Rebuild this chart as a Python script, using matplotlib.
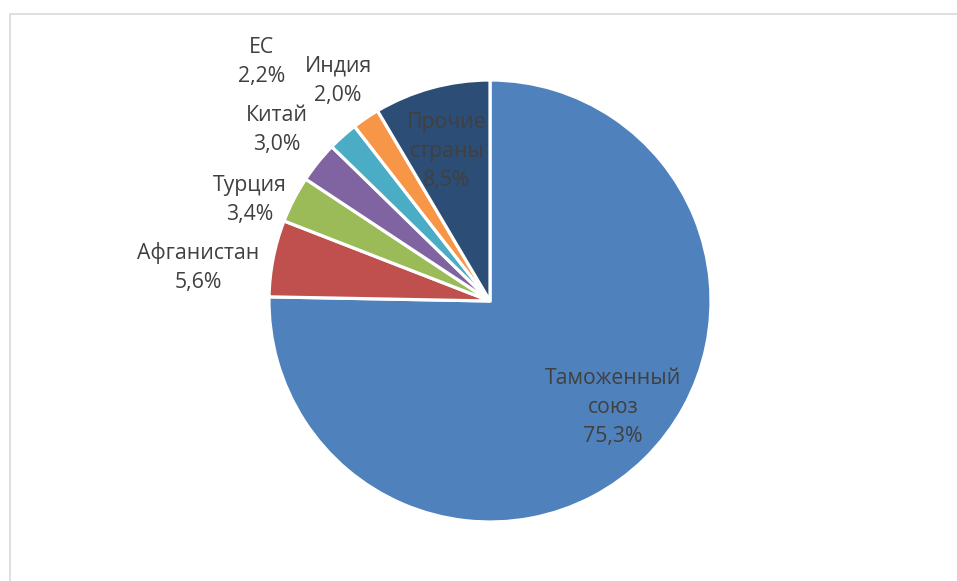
import numpy as np
import matplotlib
matplotlib.use("Agg")
import matplotlib.pyplot as plt
from matplotlib.patches import Rectangle

# ---- data ----
categories = ["Таможенный\nсоюз", "Афганистан", "Турция", "Китай", "ЕС", "Индия", "Прочие\nстраны"]
values = [75.3, 5.6, 3.4, 3.0, 2.2, 2.0, 8.5]
colors = ["#4F81BD", "#C0504D", "#9BBB59", "#8064A2", "#4BACC6", "#F79646", "#2C4D75"]

# label layout: (distance in radii, angle in degrees) from pie centre
label_layout = [(0.735, -40.8), (1.33, 173.5), (1.178, 157.2), (1.236, 141.3),
                (1.495, 133.7), (1.21, 124.6), (0.706, 106.0)]

W, H = 957, 581
plt.rcParams['font.family'] = ['Open Sans', 'DejaVu Sans']
fig = plt.figure(figsize=(W / 100, H / 100), dpi=100)
ax = fig.add_axes([0, 0, 1, 1])

# chart frame (light gray)
ax.add_patch(Rectangle((9.5, -20), W + 40, H - 13.5 + 20, fill=False,
                       edgecolor="#D9D9D9", linewidth=1.2))

cx, cy, r = 490, H - 301, 221
ax.pie(values, colors=colors, startangle=90, counterclock=False,
       center=(cx, cy), radius=r, frame=True,
       wedgeprops=dict(edgecolor="white", linewidth=2.3))
ax.set_xlim(0, W)
ax.set_ylim(0, H)
ax.set_axis_off()

for cat, v, (d, a) in zip(categories, values, label_layout):
    txt = cat + "\n" + f"{v:.1f}".replace(".", ",") + "%"
    x = cx + d * r * np.cos(np.radians(a))
    y = cy + d * r * np.sin(np.radians(a))
    ax.text(x, y, txt, ha="center", va="center", fontsize=15.3,
            color="#404040", linespacing=1.5)

fig.savefig("out.png", dpi=100)
